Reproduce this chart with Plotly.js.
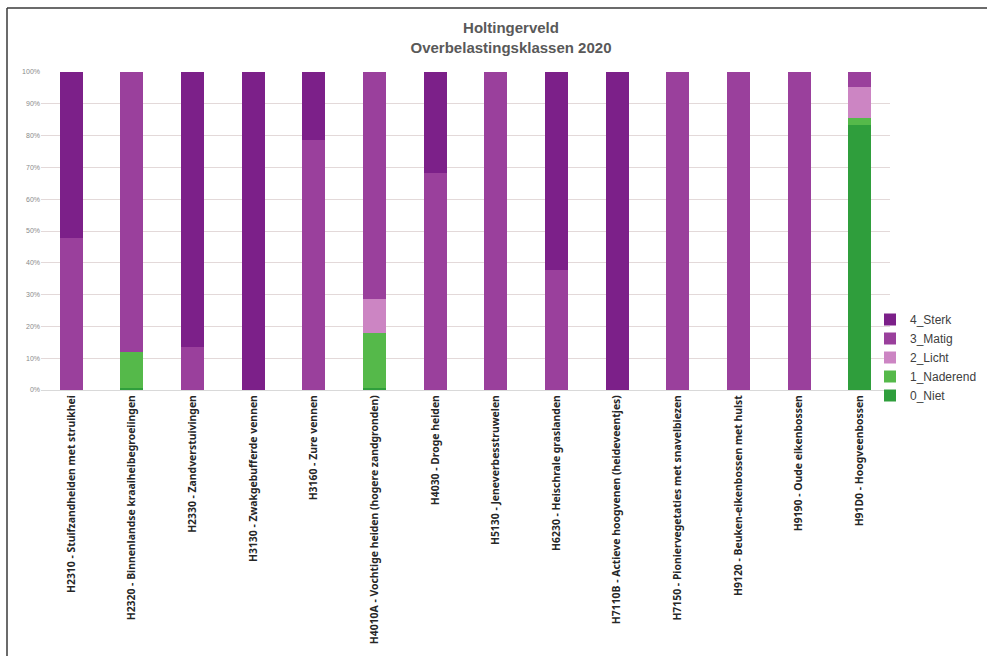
<!DOCTYPE html>
<html>
<head>
<meta charset="utf-8">
<script src="https://cdn.plot.ly/plotly-3.0.1.min.js"></script>
<style>
  html, body { margin: 0; padding: 0; background: #ffffff; }
  #chart { width: 987px; height: 656px; }
</style>
</head>
<body>
<div id="chart"></div>
<script>
const categories = [
  "H2310 - Stuifzandheiden met struikhei",
  "H2320 - Binnenlandse kraaiheibegroeiingen",
  "H2330 - Zandverstuivingen",
  "H3130 - Zwakgebufferde vennen",
  "H3160 - Zure vennen",
  "H4010A - Vochtige heiden (hogere zandgronden)",
  "H4030 - Droge heiden",
  "H5130 - Jeneverbesstruwelen",
  "H6230 - Heischrale graslanden",
  "H7110B - Actieve hoogvenen (heideveentjes)",
  "H7150 - Pioniervegetaties met snavelbiezen",
  "H9120 - Beuken-eikenbossen met hulst",
  "H9190 - Oude eikenbossen",
  "H91D0 - Hoogveenbossen"
];
const seriesNames = ["0_Niet", "1_Naderend", "2_Licht", "3_Matig", "4_Sterk"];
const niet     = [0, 0.5, 0, 0, 0, 0.5, 0, 0, 0, 0, 0, 0, 0, 83.3];
const naderend = [0, 11.5, 0, 0, 0, 17.5, 0, 0, 0, 0, 0, 0, 0, 2.1];
const licht    = [0, 0, 0, 0, 0, 10.6, 0, 0, 0, 0, 0, 0, 0, 9.8];
const matig    = [47.8, 88, 13.5, 0, 78.6, 71.4, 68.3, 100, 37.7, 0, 100, 100, 100, 4.8];
const sterk    = [52.2, 0, 86.5, 100, 21.4, 0, 31.7, 0, 62.3, 100, 0, 0, 0, 0];
const yTicks = [0, 10, 20, 30, 40, 50, 60, 70, 80, 90, 100];
const yTickLabels = ["0%", "10%", "20%", "30%", "40%", "50%", "60%", "70%", "80%", "90%", "100%"];

const colors = ["#2f9e3c", "#55b94a", "#cc85c3", "#9a409c", "#7c2089"];
const values = [niet, naderend, licht, matig, sterk];

const traces = seriesNames.map((name, i) => ({
  type: "bar",
  name: name,
  legendgroup: "g" + i,
  legendrank: seriesNames.length - i,
  x: categories,
  y: values[i],
  marker: { color: colors[i], line: { width: 0 } },
  hoverinfo: "skip"
}));

const W = 987, H = 656;
const L = 41, R = 97, T = 72, B = 266;
const pw = W - L - R, ph = H - T - B;
const px = v => (v - L) / pw;
const py = v => (H - B - v) / ph;

const layout = {
  width: W, height: H,
  margin: { l: L, r: R, t: T, b: B, pad: 0, autoexpand: false },
  paper_bgcolor: "#ffffff",
  plot_bgcolor: "#ffffff",
  barmode: "stack",
  bargap: 0.62,
  font: { family: "Liberation Sans, Arial, sans-serif", color: "#404040" },
  title: {
    text: "Holtingerveld<br>Overbelastingsklassen 2020",
    xref: "container", yref: "container",
    x: 511 / W, xanchor: "center",
    y: 1 - 33 / H, yanchor: "middle",
    font: { size: 15, color: "#595959", weight: "bold" }
  },
  xaxis: {
    type: "category",
    tickangle: -90,
    tickfont: { family: "Noto Sans, Open Sans, sans-serif", size: 10.4, color: "#262626", weight: "bold" },
    showline: true, linecolor: "#d9d9d9", linewidth: 1,
    ticks: "", showgrid: false, automargin: false
  },
  yaxis: {
    range: [0, 100],
    tickvals: yTicks, ticktext: yTickLabels,
    tickfont: { size: 7, color: "#8a8a8a" },
    showgrid: true, gridcolor: "#e3d9d9", gridwidth: 1,
    zeroline: false, showline: false, ticks: "",
    automargin: false
  },
  legend: {
    xref: "container", yref: "container",
    x: 870 / W, xanchor: "left",
    y: 1 - 305 / H, yanchor: "top",
    traceorder: "normal",
    tracegroupgap: 3,
    font: { size: 12, color: "#404040" },
    bgcolor: "rgba(0,0,0,0)"
  },
  shapes: [
    { type: "line", xref: "paper", yref: "paper", x0: px(7), x1: px(1010), y0: py(8), y1: py(8),
      line: { color: "#3a3a3a", width: 1.5 } },
    { type: "line", xref: "paper", yref: "paper", x0: px(7), x1: px(7), y0: py(8), y1: py(670),
      line: { color: "#3a3a3a", width: 1.5 } }
  ]
};

Plotly.newPlot("chart", traces, layout, { displayModeBar: false, staticPlot: true });
</script>
</body>
</html>
